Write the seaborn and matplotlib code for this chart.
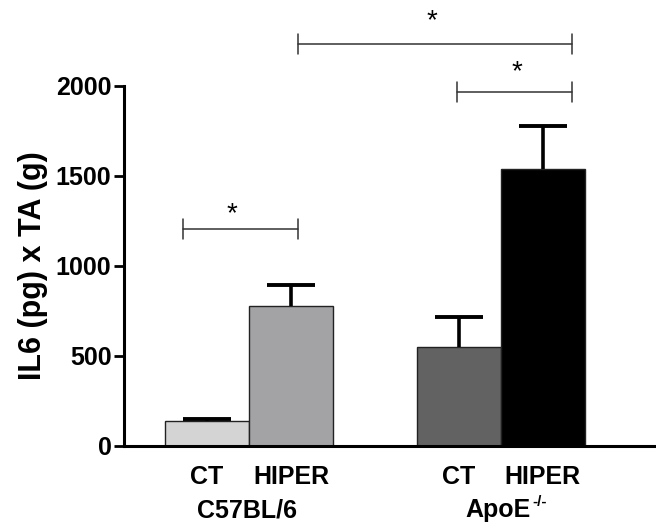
import pandas as pd
import seaborn as sns
import matplotlib.pyplot as plt

# data
groups = ['C57BL/6', 'C57BL/6', 'ApoE', 'ApoE']
conditions = ['CT', 'HIPER', 'CT', 'HIPER']
positions = [0, 1, 3, 4]
il6 = [140, 780, 550, 1540]
sem = [10, 115, 165, 240]
bar_colors = ['#d4d4d4', '#a2a2a6', '#626262', '#000000']

# significance brackets: (x start, x end, height, star x, star y)
brackets = [(-0.29, 1.08, 1205, 0.29, 1290),
            (2.98, 4.35, 1965, 3.69, 2075),
            (1.08, 4.35, 2235, 2.68, 2360)]

df = pd.DataFrame({'group': groups, 'cond': conditions, 'pos': positions, 'IL6': il6,
                   'key': [g + ' ' + c for g, c in zip(groups, conditions)]})

sns.set_style('ticks')
plt.rcParams['font.family'] = ['Liberation Sans', 'DejaVu Sans']
plt.rcParams['font.weight'] = 'bold'
plt.rcParams['text.color'] = 'black'
plt.rcParams['xtick.color'] = 'black'
plt.rcParams['ytick.color'] = 'black'
plt.rcParams['axes.labelcolor'] = 'black'
plt.rcParams['axes.edgecolor'] = 'black'

fig = plt.figure(figsize=(6.56, 5.24), dpi=100)
ax = fig.add_axes([0.189, 0.149, 0.811, 0.687])

sns.barplot(data=df, x='pos', y='IL6', hue='key', palette=bar_colors, native_scale=True,
            dodge=False, width=1, edgecolor='#222222', linewidth=1, legend=False, ax=ax)

# upper-only error bars (SEM)
tops = [m + e for m, e in zip(il6, sem)]
ax.vlines(positions, il6, tops, color='black', lw=2.6, zorder=1)
ax.hlines(tops, [p - 0.285 for p in positions], [p + 0.285 for p in positions],
          color='black', lw=2.8, zorder=1)

for x0, x1, y, sx, sy in brackets:
    ax.plot([x0, x1], [y, y], color='#333333', lw=1.1, clip_on=False)
    ax.plot([x0, x0], [y - 55, y + 55], color='#333333', lw=1.1, clip_on=False)
    ax.plot([x1, x1], [y - 55, y + 55], color='#333333', lw=1.1, clip_on=False)
    ax.text(sx, sy, '*', ha='center', va='center', fontsize=20, fontweight='normal', clip_on=False)

ax.set_xlim(-0.99, 5.35)
ax.set_ylim(0, 2000)
ax.set_yticks([0, 500, 1000, 1500, 2000])
ax.set_xticks(positions)
ax.set_xticklabels(conditions, fontsize=18, fontweight='bold')
ax.tick_params(axis='x', length=0, pad=14)
ax.tick_params(axis='y', length=7, width=2, labelsize=18, pad=2)
for lab in ax.get_yticklabels():
    lab.set_fontweight('bold')
ax.set_xlabel('')
ax.set_ylabel('IL6 (pg) x TA (g)', fontsize=22, fontweight='bold', labelpad=6)
sns.despine(ax=ax)
ax.spines['left'].set_linewidth(2.2)
ax.spines['bottom'].set_linewidth(2.2)

ax.text(0.48, -0.178, 'C57BL/6', transform=ax.get_xaxis_transform(), ha='center', va='center',
        fontsize=18, fontweight='bold')
apo = ax.text(3.47, -0.178, 'ApoE', transform=ax.get_xaxis_transform(), ha='center',
              va='center', fontsize=18, fontweight='bold')
ax.annotate('-/-', xy=(1, 1), xycoords=apo, xytext=(1, 2), textcoords='offset points',
            ha='left', va='top', fontsize=11, fontweight='bold')

fig.savefig('out.png', dpi=100)
